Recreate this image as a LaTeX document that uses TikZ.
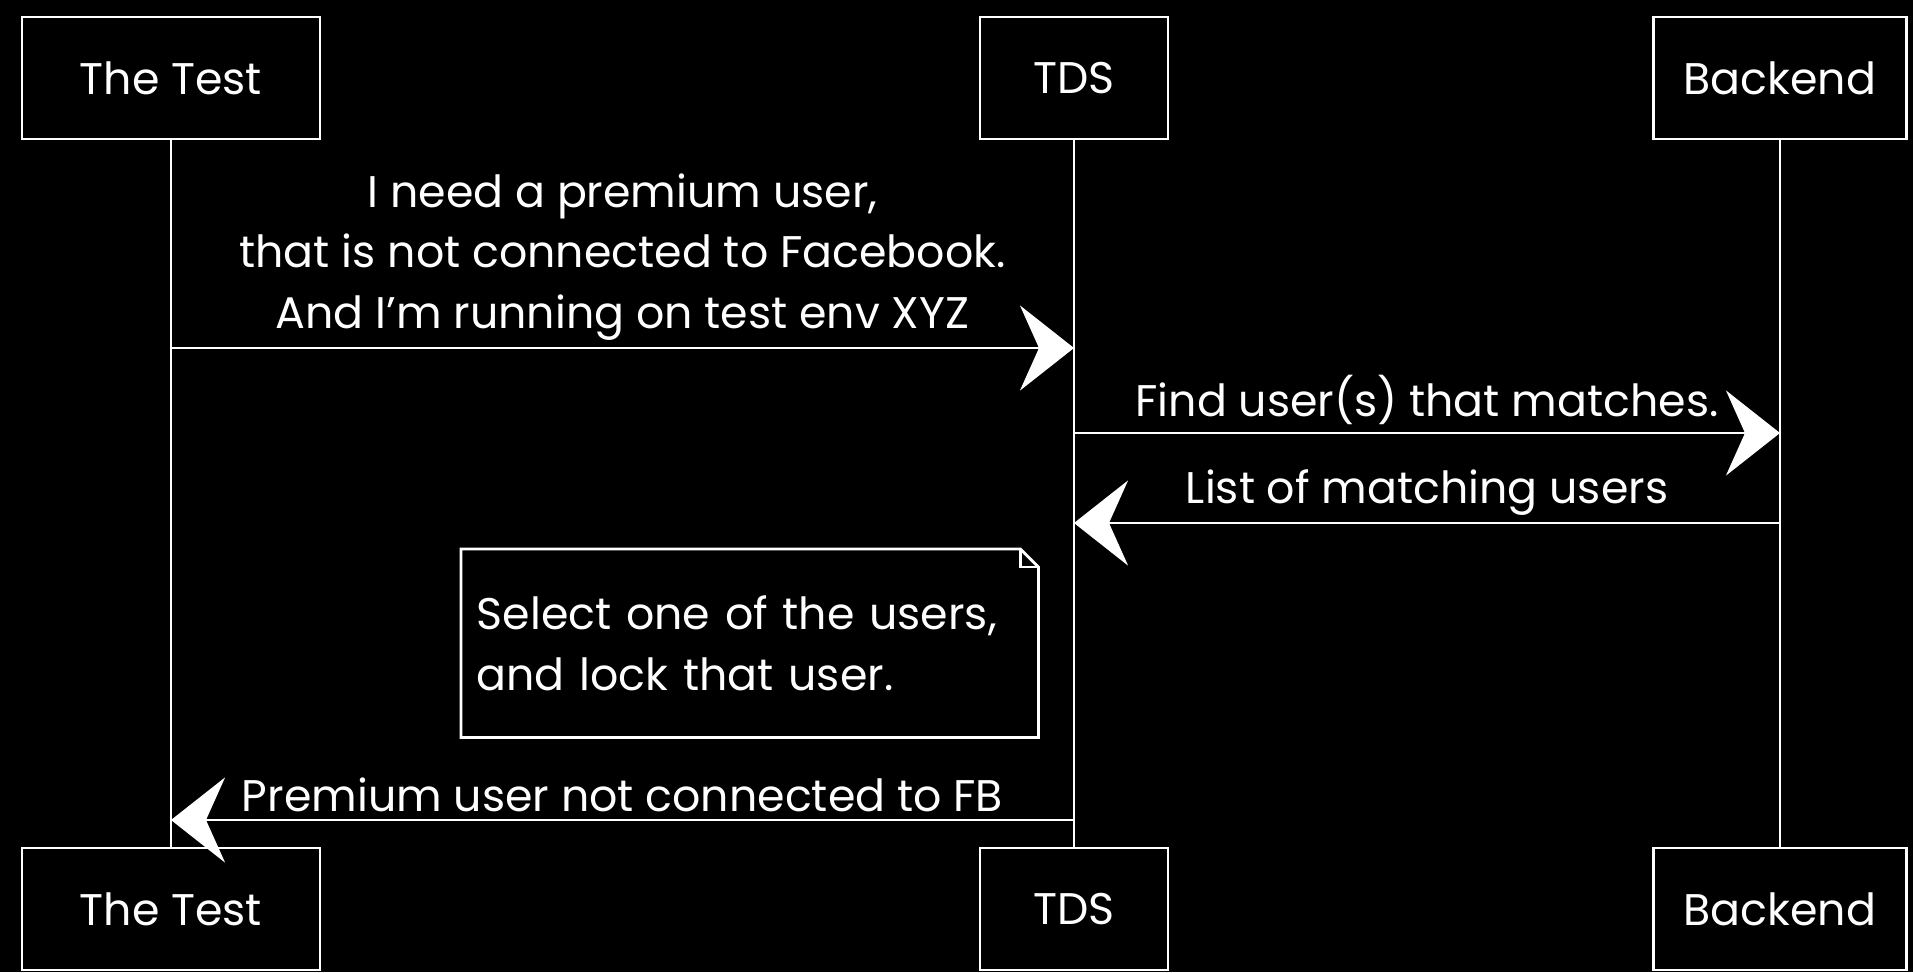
\documentclass[tikz,border=0pt]{standalone}
\usepackage{fontspec}
\setmainfont{Poppins}
\usetikzlibrary{arrows.meta,positioning,calc}

\begin{document}
\begin{tikzpicture}[
    every node/.style={text=white, font=\fontsize{12.6}{17.2}\selectfont},
    actor/.style={draw=white, line width=0.8pt, minimum height=1.22cm},
    lifeline/.style={draw=white, line width=0.8pt},
    msg/.style={draw=white, line width=0.8pt, -{Stealth[length=5.4mm, width=8.5mm, inset=1.9mm]}},
    msgtext/.style={above=-1.5pt, align=center},
    notebox/.style={text width=5.46cm, inner xsep=0.15cm, minimum height=1.87cm, align=left},
  ]
    % Background
    \fill[black] (0,0) rectangle (19.13,-9.72);
    \useasboundingbox (0,0) rectangle (19.13,-9.72);

    % Actors on top
    \node[actor, minimum width=2.98cm] (test) at (1.71,-0.78) {The Test};
    \node[actor, minimum width=1.88cm] (tds) at (10.74,-0.78) {TDS};
    \node[actor, minimum width=2.53cm] (back) at (17.80,-0.78) {Backend};

    % Actors at the bottom
    \node[actor, minimum width=2.98cm] (testB) at (1.71,-9.09) {The Test};
    \node[actor, minimum width=1.88cm] (tdsB) at (10.74,-9.09) {TDS};
    \node[actor, minimum width=2.53cm] (backB) at (17.80,-9.09) {Backend};

    % Lifelines
    \draw[lifeline] (test) -- (testB);
    \draw[lifeline] (tds) -- (tdsB);
    \draw[lifeline] (back) -- (backB);

    % Heights of the messages
    \coordinate (y1) at (0,-3.48);
    \coordinate (y2) at (0,-4.33);
    \coordinate (y3) at (0,-5.23);
    \coordinate (y4) at (0,-8.20);

    % Messages
    \draw[msg] (test |- y1) -- (tds |- y1) node[midway, msgtext] {I need a premium user,\\that is not connected to Facebook.\\And I'm running on test env XYZ};
    \draw[msg] (tds |- y2) -- (back |- y2) node[midway, msgtext] {Find user(s) that matches.};
    \draw[msg] (back |- y3) -- (tds |- y3) node[midway, msgtext] {List of matching users};

    % Note with folded corner
    \node[notebox, anchor=north west] (note) at (4.61,-5.49) {Select one of the users,\\and lock that user.};
    \draw[white, line width=0.8pt] (note.north west) -- ($(note.north east)+(-0.18,0)$) coordinate (f1)
      -- ($(note.north east)+(0,-0.18)$) coordinate (f2) -- (note.south east) -- (note.south west) -- cycle;
    \draw[white, line width=0.8pt] (f1) -- (f1 |- f2) -- (f2);

    \draw[msg] (tds |- y4) -- (test |- y4) node[midway, msgtext] {Premium user not connected to FB};
\end{tikzpicture}
\end{document}
